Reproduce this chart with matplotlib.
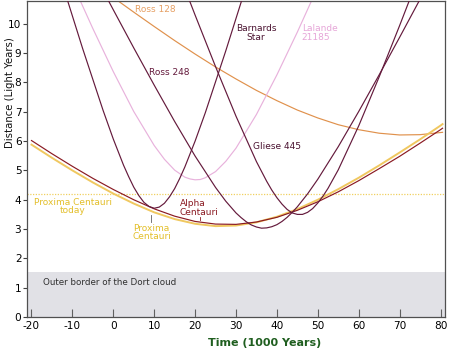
import matplotlib
matplotlib.use("Agg")
import matplotlib.pyplot as plt

plt.rcParams['font.family'] = ['DejaVu Sans']
plt.rcParams['axes.unicode_minus'] = False

# ---- data (time in 1000 years, distance in light years) ----
alpha_t = [-20, -15, -10, -5, 0, 5, 10, 15, 20, 25, 30, 35, 40, 45, 50, 55, 60, 65, 70, 75, 80, 80.5]
alpha_d = [6.02, 5.57, 5.14, 4.73, 4.35, 4.00, 3.69, 3.44, 3.26, 3.17, 3.16, 3.24, 3.40, 3.64, 3.93, 4.27, 4.65, 5.06, 5.48, 5.93, 6.39, 6.44]

proxima_t = [-20, -15, -10, -5, 0, 5, 10, 15, 20, 25, 30, 35, 40, 45, 50, 55, 60, 65, 70, 75, 80, 80.5]
proxima_d = [5.88, 5.43, 5.00, 4.59, 4.21, 3.87, 3.57, 3.34, 3.18, 3.10, 3.12, 3.23, 3.42, 3.68, 4.00, 4.36, 4.75, 5.17, 5.61, 6.06, 6.53, 6.58]

barnard_t = [-12.5, -7.5, -2.5, 0, 2.5, 3.75, 5, 6.25, 7.5, 8.75, 10, 11.25, 12.5, 13.75, 15, 16.25, 17.5, 20, 22.5, 27.5, 32.5]
barnard_d = [11.38, 9.16, 7.05, 6.07, 5.18, 4.79, 4.43, 4.14, 3.91, 3.77, 3.71, 3.75, 3.88, 4.10, 4.38, 4.73, 5.12, 6.00, 6.97, 9.08, 11.29]

ross248_t = [-5, 0, 5, 10, 15, 20, 25, 27.5, 30, 31.25, 32.5, 33.75, 35, 36.25, 37.5, 38.75, 40, 41.25, 42.5, 43.75, 45, 47.5, 50, 55, 60, 65, 70, 75, 80]
ross248_d = [11.79, 10.48, 9.18, 7.91, 6.67, 5.49, 4.42, 3.95, 3.55, 3.39, 3.25, 3.14, 3.07, 3.03, 3.04, 3.08, 3.15, 3.26, 3.40, 3.57, 3.76, 4.20, 4.70, 5.81, 7.01, 8.26, 9.54, 10.84, 12.16]

gliese_t = [15, 20, 25, 30, 35, 37.5, 38.75, 40, 41.25, 42.5, 43.75, 45, 46.25, 47.5, 48.75, 50, 51.25, 52.5, 55, 60, 65, 70, 75]
gliese_d = [12.10, 10.30, 8.54, 6.85, 5.30, 4.63, 4.33, 4.07, 3.85, 3.67, 3.55, 3.50, 3.50, 3.57, 3.70, 3.89, 4.12, 4.39, 5.02, 6.52, 8.19, 9.94, 11.74]

lalande_t = [-10, -5, 0, 5, 10, 12.5, 15, 17.5, 18.75, 20, 21.25, 22.5, 25, 27.5, 30, 35, 40, 45, 50]
lalande_d = [11.38, 9.84, 8.37, 7.01, 5.85, 5.38, 5.01, 4.77, 4.71, 4.68, 4.69, 4.75, 4.96, 5.31, 5.76, 6.91, 8.26, 9.72, 11.26]

ross128_t = [-5, 0, 5, 10, 15, 20, 25, 30, 35, 40, 45, 50, 55, 60, 65, 70, 75, 80.5]
ross128_d = [11.42, 10.90, 10.40, 9.91, 9.43, 8.97, 8.53, 8.12, 7.73, 7.38, 7.06, 6.79, 6.56, 6.39, 6.27, 6.21, 6.22, 6.30]

proxima_today = 4.2
oort_border = 1.55

x_ticks = [-20, -10, 0, 10, 20, 30, 40, 50, 60, 70, 80]
y_ticks = [0, 1, 2, 3, 4, 5, 6, 7, 8, 9, 10]

# ---- colours ----
c_purple = '#641a3c'
c_alpha = '#8a1a22'
c_prox_line = '#f0c860'
c_prox_text = '#e3bf2a'
c_lalande = '#e8b2dc'
c_lalande_text = '#e6a6d8'
c_ross128 = '#e0914c'
c_ross128_text = '#e6a064'

W, H = 450, 351
fig = plt.figure(figsize=(W / 100, H / 100), dpi=100)
ax = fig.add_axes([27 / W, 1 - 317 / H, (445 - 27) / W, (317 - 1) / H])
ax.set_xlim(-21.1, 81.1)
ax.set_ylim(0, 10.78)

ax.axhspan(0, oort_border, color='#e1e1e6', zorder=0, lw=0)
ax.axhline(proxima_today, color='#f0d060', lw=0.9, ls=(0, (1, 1.2)), zorder=1)

lw = 0.85
ax.plot(ross128_t, ross128_d, color=c_ross128, lw=lw, zorder=2)
ax.plot(lalande_t, lalande_d, color=c_lalande, lw=lw, zorder=2)
ax.plot(proxima_t, proxima_d, color=c_prox_line, lw=1.4, zorder=3)
ax.plot(alpha_t, alpha_d, color=c_alpha, lw=lw, zorder=4)
ax.plot(barnard_t, barnard_d, color=c_purple, lw=lw, zorder=4)
ax.plot(ross248_t, ross248_d, color=c_purple, lw=lw, zorder=4)
ax.plot(gliese_t, gliese_d, color=c_purple, lw=lw, zorder=4)

fs = 6.5
ax.text(10.2, 10.48, 'Ross 128', color=c_ross128_text, fontsize=fs, ha='center', va='center')
ax.text(13.6, 8.33, 'Ross 248', color=c_purple, fontsize=fs, ha='center', va='center')
ax.text(34.9, 9.69, 'Barnards\nStar', color='#4a1230', fontsize=fs, ha='center', va='center',
        linespacing=0.95, multialignment='center')
ax.text(46.1, 9.69, 'Lalande\n21185', color=c_lalande_text, fontsize=fs, ha='left', va='center',
        linespacing=0.95)
ax.text(34.2, 5.80, 'Gliese 445', color='#4a1230', fontsize=fs, ha='left', va='center')
ax.text(16.3, 3.72, 'Alpha\nCentauri', color=c_alpha, fontsize=fs, ha='left', va='center',
        linespacing=0.95)
ax.plot([21.2, 21.2], [3.30, 3.40], color=c_alpha, lw=0.6)
ax.text(9.4, 2.88, 'Proxima\nCentauri', color=c_prox_text, fontsize=fs, ha='center', va='center',
        linespacing=0.95, multialignment='center')
ax.plot([9.1, 9.1], [3.25, 3.48], color='#606060', lw=0.6)
ax.text(-9.9, 3.77, 'Proxima Centauri\ntoday', color=c_prox_text, fontsize=fs, ha='center', va='center',
        linespacing=0.95, multialignment='center')
ax.text(-17.1, 1.19, 'Outer border of the Dort cloud', color='#303030', fontsize=6.3,
        ha='left', va='center')

ax.set_xticks(x_ticks)
ax.set_yticks(y_ticks)
ax.tick_params(axis='x', direction='in', length=6, width=0.8, color='#606060',
               labelsize=7.6, pad=3)
ax.tick_params(axis='y', direction='out', length=3, width=0.8, color='#404040',
               labelsize=7.6, pad=1)
for s in ax.spines.values():
    s.set_color('#505050')
    s.set_linewidth(0.9)

fig.text(265 / W, 1 - 343 / H, 'Time (1000 Years)', color='#1f5e1f', fontsize=8,
         fontweight='bold', ha='center', va='center')
fig.text(10 / W, 1 - 92.5 / H, 'Distance (Light Years)', color='#111111', fontsize=7.3,
         rotation=90, ha='center', va='center')

fig.savefig('out.png', dpi=100)
